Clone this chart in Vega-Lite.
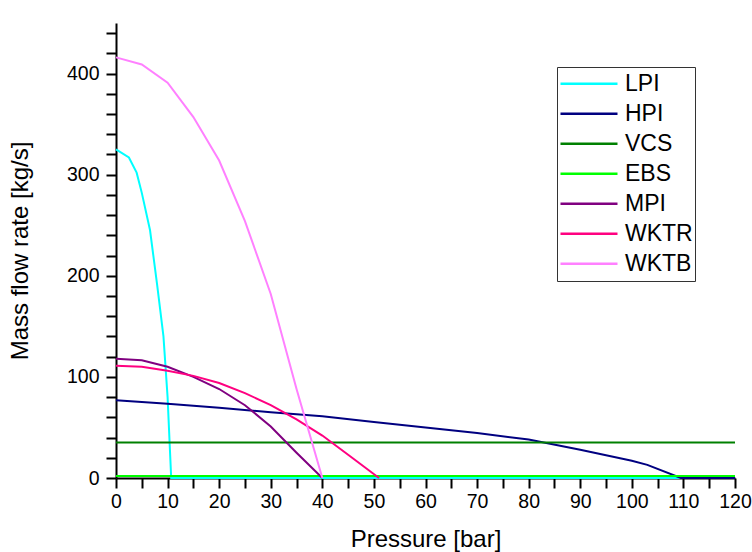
{
  "$schema": "https://vega.github.io/schema/vega-lite/v6.json",
  "width": 619,
  "height": 455,
  "autosize": "none",
  "padding": {"left": 116, "top": 23, "right": 17, "bottom": 74},
  "config": {
    "view": {"stroke": null}
  },
  "data": {
    "values": [
      {"s": "LPI", "p": 0, "m": 325},
      {"s": "LPI", "p": 2.5, "m": 317},
      {"s": "LPI", "p": 4, "m": 302},
      {"s": "LPI", "p": 5, "m": 282},
      {"s": "LPI", "p": 6.6, "m": 245},
      {"s": "LPI", "p": 8, "m": 190},
      {"s": "LPI", "p": 9.2, "m": 140},
      {"s": "LPI", "p": 10, "m": 80},
      {"s": "LPI", "p": 10.7, "m": 0},
      {"s": "LPI", "p": 120, "m": 0},
      {"s": "HPI", "p": 0, "m": 77},
      {"s": "HPI", "p": 10, "m": 73.5},
      {"s": "HPI", "p": 20, "m": 69.5},
      {"s": "HPI", "p": 30, "m": 65},
      {"s": "HPI", "p": 40, "m": 61},
      {"s": "HPI", "p": 50, "m": 55.5},
      {"s": "HPI", "p": 60, "m": 50},
      {"s": "HPI", "p": 70, "m": 44.5},
      {"s": "HPI", "p": 80, "m": 38},
      {"s": "HPI", "p": 90, "m": 28},
      {"s": "HPI", "p": 100, "m": 17},
      {"s": "HPI", "p": 103, "m": 13},
      {"s": "HPI", "p": 109.5, "m": 0},
      {"s": "HPI", "p": 120, "m": 0},
      {"s": "VCS", "p": 0, "m": 35},
      {"s": "VCS", "p": 120, "m": 35},
      {"s": "EBS", "p": 0, "m": 2},
      {"s": "EBS", "p": 120, "m": 2},
      {"s": "MPI", "p": 0, "m": 118},
      {"s": "MPI", "p": 5, "m": 116.5},
      {"s": "MPI", "p": 10, "m": 110},
      {"s": "MPI", "p": 15, "m": 100},
      {"s": "MPI", "p": 20, "m": 88},
      {"s": "MPI", "p": 25, "m": 72},
      {"s": "MPI", "p": 30, "m": 51},
      {"s": "MPI", "p": 35, "m": 25},
      {"s": "MPI", "p": 40, "m": 0},
      {"s": "WKTR", "p": 0, "m": 111},
      {"s": "WKTR", "p": 5, "m": 110},
      {"s": "WKTR", "p": 10, "m": 106},
      {"s": "WKTR", "p": 15, "m": 101},
      {"s": "WKTR", "p": 20, "m": 94},
      {"s": "WKTR", "p": 25, "m": 84},
      {"s": "WKTR", "p": 30, "m": 72},
      {"s": "WKTR", "p": 35, "m": 58},
      {"s": "WKTR", "p": 40, "m": 42},
      {"s": "WKTR", "p": 45, "m": 23},
      {"s": "WKTR", "p": 51, "m": 0},
      {"s": "WKTB", "p": 0, "m": 416},
      {"s": "WKTB", "p": 5, "m": 409},
      {"s": "WKTB", "p": 10, "m": 391},
      {"s": "WKTB", "p": 15, "m": 357},
      {"s": "WKTB", "p": 20, "m": 314},
      {"s": "WKTB", "p": 25, "m": 254},
      {"s": "WKTB", "p": 30, "m": 182},
      {"s": "WKTB", "p": 35, "m": 88},
      {"s": "WKTB", "p": 40, "m": 0}
    ]
  },
  "mark": {"type": "line", "strokeWidth": 2},
  "encoding": {
    "x": {
      "field": "p",
      "type": "quantitative",
      "scale": {"domain": [0, 120]},
      "axis": {
        "title": "Pressure [bar]",
        "grid": false,
        "ticks": true,
        "tickCount": 24,
        "labelExpr": "datum.value % 10 === 0 ? datum.label : ''",
        "tickSize": 10,
        "tickColor": "black",
        "tickWidth": 2,
        "domainColor": "black",
        "domainWidth": 2,
        "labelColor": "black",
        "titleColor": "black",
        "labelFont": "Liberation Sans",
        "titleFont": "Liberation Sans",
        "labelFontSize": 19.5,
        "titleFontSize": 24,
        "titleFontWeight": "normal",
        "labelPadding": 4,
        "titlePadding": 17,
        "labelFlush": false,
        "labelOverlap": false
      }
    },
    "y": {
      "field": "m",
      "type": "quantitative",
      "scale": {"domain": [0, 450]},
      "axis": {
        "title": "Mass flow rate [kg/s]",
        "grid": false,
        "ticks": true,
        "tickCount": 18,
        "labelExpr": "datum.value % 50 === 0 ? datum.label : ''",
        "tickSize": 10,
        "tickColor": "black",
        "tickWidth": 2,
        "domainColor": "black",
        "domainWidth": 2,
        "labelColor": "black",
        "titleColor": "black",
        "labelFont": "Liberation Sans",
        "titleFont": "Liberation Sans",
        "labelFontSize": 19.5,
        "titleFontSize": 24,
        "titleFontWeight": "normal",
        "labelPadding": 7,
        "titlePadding": 34,
        "labelOverlap": false
      }
    },
    "color": {
      "field": "s",
      "type": "nominal",
      "sort": ["LPI", "HPI", "VCS", "EBS", "MPI", "WKTR", "WKTB"],
      "scale": {
        "domain": ["LPI", "HPI", "VCS", "EBS", "MPI", "WKTR", "WKTB"],
        "range": ["#00FFFF", "#000080", "#008000", "#00FF00", "#800080", "#FF0080", "#FF80FF"]
      },
      "legend": {
        "title": null,
        "orient": "none",
        "legendX": 441,
        "legendY": 44,
        "strokeColor": "#333333",
        "padding": 2,
        "symbolType": "stroke",
        "symbolSize": 3249,
        "symbolStrokeWidth": 2.5,
        "labelFont": "Liberation Sans",
        "labelFontSize": 23,
        "labelColor": "black",
        "clipHeight": 29.5,
        "rowPadding": 0,
        "labelOffset": 6
      }
    }
  }
}
